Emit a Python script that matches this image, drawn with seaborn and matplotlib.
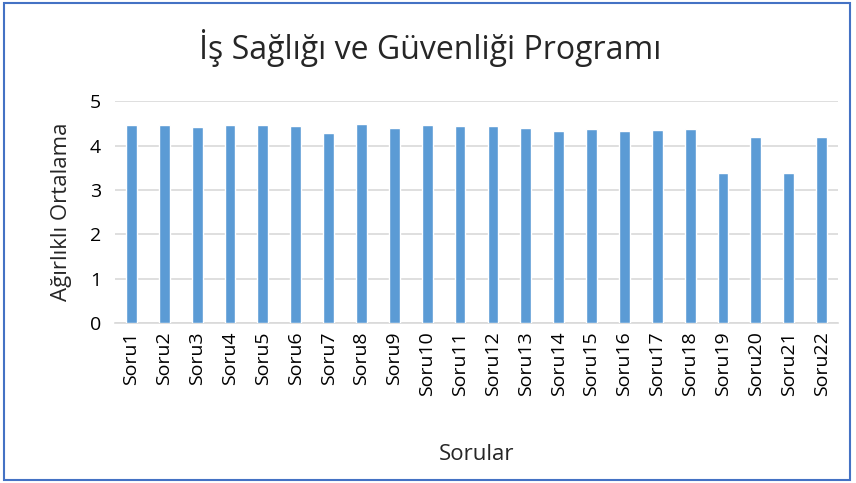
import matplotlib
matplotlib.use("Agg")
import matplotlib.pyplot as plt
import matplotlib.patches as mpatches
import seaborn as sns
import pandas as pd

# data
questions = [f"Soru{i}" for i in range(1, 23)]
averages = [4.48, 4.46, 4.42, 4.48, 4.47, 4.45, 4.29, 4.50, 4.40, 4.48, 4.44,
            4.45, 4.40, 4.34, 4.38, 4.33, 4.36, 4.39, 3.39, 4.20, 3.38, 4.19]
y_ticks = [0, 1, 2, 3, 4, 5]

title = "İş Sağlığı ve Güvenliği Programı"
x_label = "Sorular"
y_label = "Ağırlıklı Ortalama"

df = pd.DataFrame({"soru": questions, "ortalama": averages})

sns.set_style("white")
plt.rcParams["font.family"] = ["Open Sans", "DejaVu Sans"]

fig = plt.figure(figsize=(8.56, 4.83), dpi=100)
ax = fig.add_axes([0.1343, 0.3313, 0.8447, 0.4586])

sns.barplot(data=df, x="soru", y="ortalama", color="#5B9BD5", width=0.33,
            saturation=1, ax=ax, zorder=3)

ax.set_ylim(0, 5)
ax.set_yticks(y_ticks)
ax.set_xlim(-0.5, len(questions) - 0.5)
ax.yaxis.grid(True, color="#D9D9D9", linewidth=1.2, zorder=0)
ax.set_axisbelow(True)
for side in ["top", "right", "left"]:
    ax.spines[side].set_visible(False)
ax.spines["bottom"].set_color("#D9D9D9")
ax.spines["bottom"].set_linewidth(1.2)
ax.tick_params(axis="both", length=0, labelsize=14, colors="#000000")
ax.tick_params(axis="x", pad=6)
ax.tick_params(axis="y", pad=10)
plt.setp(ax.get_xticklabels(), rotation=90)

ax.set_xlabel(x_label, fontsize=16, labelpad=0)
ax.xaxis.set_label_coords(0.5, -0.545)
ax.set_ylabel(y_label, fontsize=16)
ax.yaxis.set_label_coords(-0.06, 0.5)

fig.text(0.502, 0.9, title, ha="center", va="center", fontsize=23)

# blue frame around the chart
fig.patches.append(mpatches.Rectangle((0.005, 0.006), 0.988, 0.987,
                                      transform=fig.transFigure, fill=False,
                                      edgecolor="#4472C4", linewidth=1.5))

fig.savefig("out.png", dpi=100)
